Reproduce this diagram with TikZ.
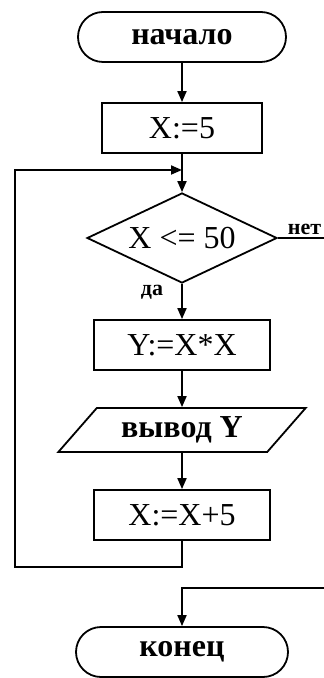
\documentclass[tikz,border=0pt]{standalone}
\usepackage{fontspec}
\setmainfont{Liberation Serif}
\usepackage{tikz}
\usetikzlibrary{arrows.meta,shapes.geometric}

\begin{document}
\begin{tikzpicture}[x=0.5pt, y=-0.5pt, line width=0.9pt,
    font=\fontsize{16}{19}\selectfont,
    terminal/.style={draw, rectangle, rounded corners=12.5pt, minimum width=#1, minimum height=25pt, inner sep=0pt, font=\fontsize{16}{19}\selectfont\bfseries},
    action/.style={draw, rectangle, minimum width=#1, minimum height=25pt, inner sep=0pt},
    flow/.style={-{Triangle[length=5.5pt,width=4.5pt]}},
    branch/.style={font=\fontsize{11}{13}\selectfont\bfseries, inner sep=1pt}]
  \useasboundingbox (0,0) rectangle (324,678);

  % blocks
  \node[terminal=104pt] (begin) at (182,37) {начало};
  \node[action=80pt] (init) at (182,128) {X:=5};
  \node[draw, diamond, aspect=2.1, minimum width=95pt, minimum height=45pt, inner sep=0pt] (check) at (182,238) {X <= 50};
  \node[action=88pt] (square) at (182,345) {Y:=X*X};
  \node[draw, trapezium, trapezium left angle=44, trapezium right angle=136, trapezium stretches=true,
        minimum width=124pt, minimum height=22pt, inner sep=0pt, font=\fontsize{16}{19}\selectfont\bfseries] (print) at (182,430) {вывод Y};
  \node[action=88pt] (step5) at (182,515) {X:=X+5};
  \node[terminal=106pt] (finish) at (182,652) {конец};

  % free ends
  \coordinate (loopLow) at (15,567);
  \coordinate (loopIn) at (182,170);
  \coordinate (noOut) at (324,238);
  \coordinate (noIn) at (324,588);

  % main line
  \draw[flow] (begin) -- (init);
  \draw[flow] (init) -- (check);
  \draw[flow] (check) -- node[branch, pos=0.25, left=8pt] (yes) {да} (square);
  \draw[flow] (square) -- (print);
  \draw[flow] (print) -- (step5);

  % loop back
  \draw[flow] (step5.south) |- (loopLow) |- (loopIn);

  % exit
  \draw (check.east) -- (noOut) node[branch, above left=0pt] (no) {нет};
  \draw[flow] (noIn) -| (finish.north);
\end{tikzpicture}
\end{document}
